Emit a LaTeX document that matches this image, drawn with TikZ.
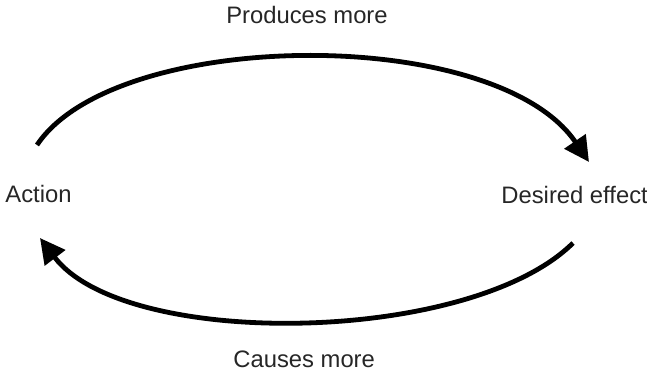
\documentclass[tikz,border=0pt]{standalone}
\usepackage{fontspec}
\setmainfont{Liberation Sans}
\usetikzlibrary{arrows.meta}

\begin{document}
\begin{tikzpicture}[x=0.5pt,y=-0.5pt,>={Triangle[length=12.5pt,width=12.5pt]},
  loop arc/.style={line width=2.4pt,->},
  label text/.style={inner sep=0pt,font=\fontsize{11.9}{14}\selectfont,text=black!85}]
  \useasboundingbox (0,0) rectangle (647,374);

  \node[label text,anchor=base] (produces) at (307,24) {Produces more};
  \node[label text,anchor=base west] (action) at (5,202) {Action};
  \node[label text,anchor=base west] (effect) at (501,203) {Desired effect};
  \node[label text,anchor=base west] (causes) at (233,367) {Causes more};

  % ends of the two arcs
  \coordinate (topstart) at (37,145);
  \coordinate (topend) at (589,162);
  \coordinate (botstart) at (573,243);
  \coordinate (botend) at (40,238);

  \draw[loop arc] (topstart) .. controls (115,28) and (495,24) .. (topend);
  \draw[loop arc] (botstart) .. controls (470,345) and (125,350) .. (botend);
\end{tikzpicture}
\end{document}
